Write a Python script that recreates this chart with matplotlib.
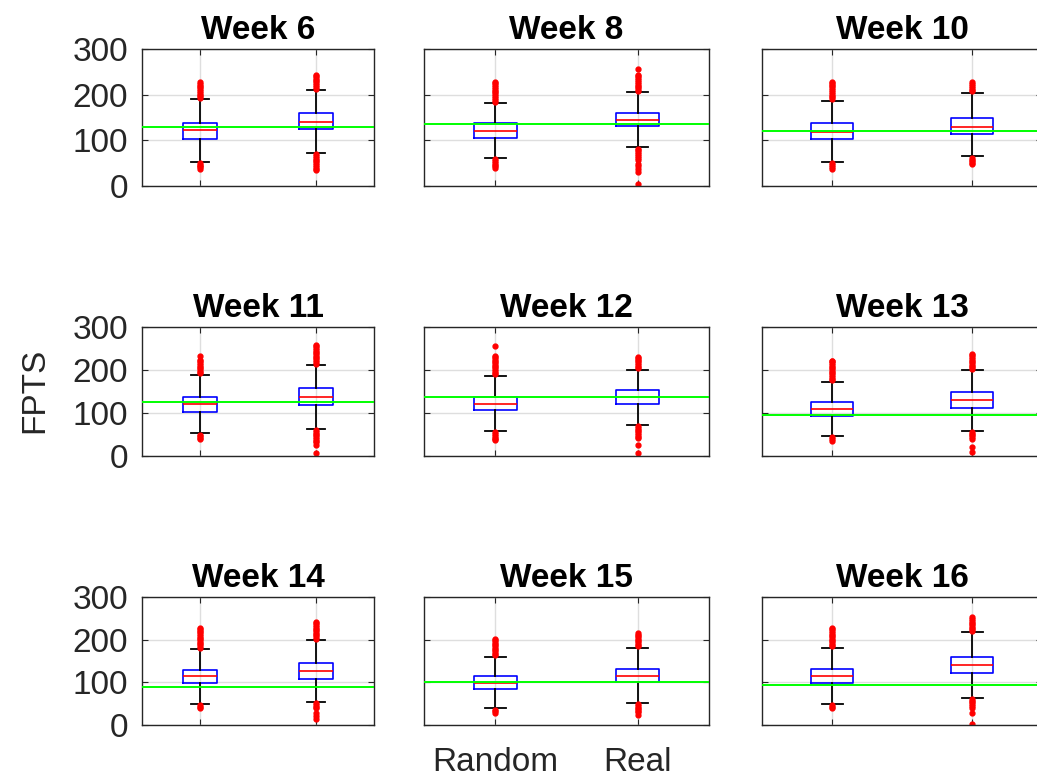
import matplotlib
matplotlib.use("Agg")
import matplotlib.pyplot as plt

plt.rcParams["font.family"] = ["Liberation Sans", "DejaVu Sans"]

# Semaines et valeurs
weeks = ["Week 6", "Week 8", "Week 10",
         "Week 11", "Week 12", "Week 13",
         "Week 14", "Week 15", "Week 16"]
groups = ["Random", "Real"]

rand_q1 = [104, 106, 104, 103, 106, 94, 98, 84, 99]
rand_med = [122, 121, 119, 120, 121, 109, 114, 99, 115]
rand_q3 = [139, 137, 137, 138, 138, 126, 130, 114, 132]
rand_lo = [52, 62, 53, 53, 58, 47, 49, 39, 50]
rand_hi = [190, 182, 187, 189, 187, 173, 178, 160, 181]

real_q1 = [124, 131, 113, 118, 120, 112, 108, 101, 121]
real_med = [141, 145, 130, 137, 137, 130, 127, 116, 140]
real_q3 = [159, 160, 149, 157, 153, 148, 146, 132, 159]
real_lo = [73, 85, 66, 63, 72, 59, 54, 52, 64]
real_hi = [210, 205, 204, 212, 201, 199, 199, 181, 217]

# ligne verte (score réel)
actual = [130, 135, 121, 126, 137, 96, 89, 100, 94]

rand_fliers = [
    [192, 196, 200, 204, 208, 212, 216, 220, 224, 228, 50, 47, 44, 41, 38],
    [185, 189, 193, 197, 201, 205, 209, 213, 217, 221, 225, 227, 59, 55, 51, 47, 43, 40],
    [190, 194, 198, 202, 206, 210, 214, 218, 222, 226, 228, 50, 46, 42, 38],
    [192, 196, 200, 204, 208, 212, 216, 220, 224, 233, 50, 46, 42, 39],
    [190, 194, 198, 202, 206, 210, 214, 218, 222, 226, 230, 232, 255, 55, 51, 47, 43, 39, 37],
    [176, 180, 184, 188, 192, 196, 200, 204, 208, 212, 216, 220, 222, 44, 40, 35],
    [181, 185, 189, 193, 197, 201, 205, 209, 213, 217, 221, 225, 228, 46, 43, 40],
    [163, 167, 171, 175, 179, 183, 187, 191, 195, 199, 202, 36, 32, 27],
    [184, 188, 192, 196, 200, 204, 208, 212, 216, 220, 224, 227, 47, 43, 40],
]
real_fliers = [
    [213, 217, 221, 225, 229, 233, 237, 241, 244, 70, 66, 62, 58, 54, 50, 46, 42, 38, 35],
    [208, 212, 216, 220, 224, 228, 232, 236, 240, 244, 257, 82, 78, 74, 70, 66, 62, 58, 49, 43, 38, 31, 4],
    [207, 211, 215, 219, 223, 227, 62, 58, 54, 50, 48],
    [215, 219, 223, 227, 231, 235, 239, 243, 247, 251, 255, 257, 60, 56, 52, 48, 44, 40, 36, 33, 25, 8],
    [204, 208, 212, 216, 220, 224, 228, 230, 69, 65, 61, 57, 53, 49, 45, 41, 25, 6],
    [202, 206, 210, 214, 218, 222, 226, 230, 234, 237, 56, 52, 48, 44, 40, 20, 9],
    [202, 206, 210, 214, 218, 222, 226, 230, 234, 238, 241, 51, 47, 43, 39, 27, 21, 13],
    [184, 188, 192, 196, 200, 204, 208, 212, 216, 49, 45, 41, 37, 33, 31, 23],
    [220, 224, 228, 232, 236, 240, 244, 248, 252, 61, 57, 53, 49, 45, 41, 27, 2],
]

# positions des axes en pixels (gauche, largeur) et (haut, bas)
cols = [(142, 232), (424, 285), (762, 280)]
rows = [(49, 186), (327, 456), (597, 725)]
W, H = 1037, 779

fig = plt.figure(figsize=(W / 100, H / 100), dpi=100)
dark = (0.15, 0.15, 0.15)

for i, week in enumerate(weeks):
    r, c = divmod(i, 3)
    left, width = cols[c]
    top, bot = rows[r]
    ax = fig.add_axes([left / W, 1 - bot / H, width / W, (bot - top) / H])

    stats = [
        dict(med=rand_med[i], q1=rand_q1[i], q3=rand_q3[i],
             whislo=rand_lo[i], whishi=rand_hi[i], fliers=rand_fliers[i]),
        dict(med=real_med[i], q1=real_q1[i], q3=real_q3[i],
             whislo=real_lo[i], whishi=real_hi[i], fliers=real_fliers[i]),
    ]
    ax.bxp(stats, positions=[1, 2], widths=0.3, capwidths=0.15,
           boxprops=dict(color="blue", lw=1.2),
           medianprops=dict(color="red", lw=1.2),
           whiskerprops=dict(color="black", lw=1.3),
           capprops=dict(color="black", lw=1.3),
           flierprops=dict(marker="o", markerfacecolor="red",
                           markeredgecolor="red", markersize=3.5))
    ax.axhline(actual[i], color=(0, 1, 0), lw=1.4, zorder=5)

    ax.set_xlim(0.5, 2.5)
    ax.set_ylim(0, 300)
    ax.set_yticks([0, 100, 200, 300])
    ax.set_xticks([1, 2])
    ax.grid(True, color=(0.87, 0.87, 0.87), lw=1)
    ax.set_axisbelow(True)
    ax.tick_params(direction="in", top=True, right=True, length=4,
                   color=dark, labelcolor=dark, labelsize=24)
    ax.tick_params(axis="y", pad=10)
    ax.tick_params(axis="x", pad=16)
    for s in ax.spines.values():
        s.set_color(dark)
        s.set_linewidth(1)
    if c != 0:
        ax.set_yticklabels([])
    if i == 7:
        ax.set_xticklabels(groups)
    else:
        ax.set_xticklabels([])
    ax.set_title(week, fontsize=24, fontweight="bold", pad=7)

fig.text(35 / W, 1 - 390 / H, "FPTS", rotation=90, fontsize=24,
         color=dark, ha="center", va="center")

plt.savefig("out.png", dpi=100)
